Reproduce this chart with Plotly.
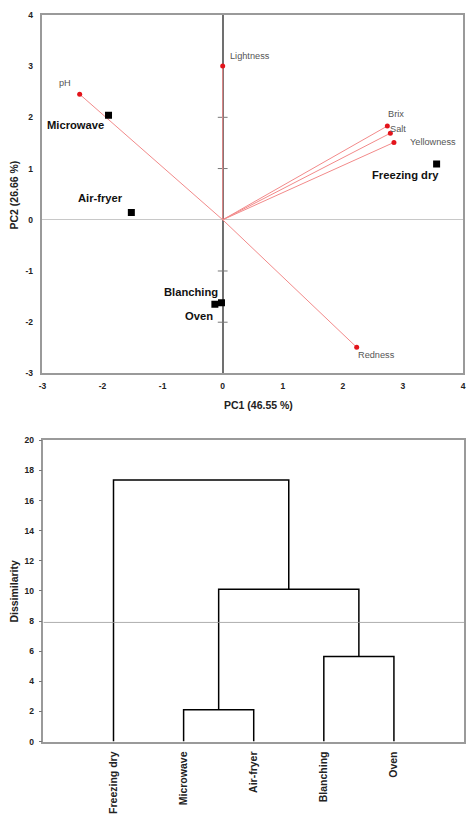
import plotly.graph_objects as go

# ---------------- PCA biplot data ----------------
var_names = ["pH", "Lightness", "Brix", "Salt", "Yellowness", "Redness"]
var_pc1 = [-2.38, 0.00, 2.74, 2.79, 2.85, 2.23]
var_pc2 = [2.45, 3.00, 1.83, 1.69, 1.51, -2.49]

obs_names = ["Microwave", "Air-fryer", "Blanching", "Oven", "Freezing dry"]
obs_pc1 = [-1.90, -1.52, -0.02, -0.13, 3.56]
obs_pc2 = [2.04, 0.14, -1.62, -1.65, 1.09]

pc_ticks = [-3, -2, -1, 0, 1, 2, 3, 4]
axis_mark_ticks = [-2, -1, 1, 2]

# ---------------- Dendrogram data ----------------
leaf_names = ["Freezing dry", "Microwave", "Air-fryer", "Blanching", "Oven"]
merge_pairs = [("Microwave", "Air-fryer"), ("Blanching", "Oven"), ("C1", "C2"), ("Freezing dry", "C3")]
merge_heights = [2.12, 5.64, 10.12, 17.36]
cut_level = 7.91
dis_ticks = list(range(0, 21, 2))

W, H = 469, 817
FONT = "Liberation Sans, Arial"
fig = go.Figure()

# small ticks on the vertical centre axis
fig.add_trace(go.Scatter(x=[0] * len(axis_mark_ticks), y=axis_mark_ticks, mode="markers",
                         marker=dict(symbol="line-ew-open", size=7, color="#777",
                                     line=dict(color="#777", width=1)),
                         hoverinfo="skip", showlegend=False, xaxis="x", yaxis="y"))
# ---- biplot vectors ----
for name, x, y in zip(var_names, var_pc1, var_pc2):
    fig.add_trace(go.Scatter(x=[0, x], y=[0, y], mode="lines",
                             line=dict(color="#f28a8a", width=1),
                             hoverinfo="skip", showlegend=False, xaxis="x", yaxis="y"))
fig.add_trace(go.Scatter(x=var_pc1, y=var_pc2, mode="markers",
                         marker=dict(color="#e3141b", size=5), text=var_names,
                         showlegend=False, xaxis="x", yaxis="y"))
fig.add_trace(go.Scatter(x=obs_pc1, y=obs_pc2, mode="markers",
                         marker=dict(color="black", size=7, symbol="square"),
                         text=obs_names, showlegend=False, xaxis="x", yaxis="y"))

var_offsets = {"pH": ("right", -7, 11), "Lightness": ("left", 5, 10),
               "Brix": ("left", -1, 12), "Salt": ("left", -2, 4),
               "Yellowness": ("left", 14, 0), "Redness": ("left", -1, -8)}
obs_offsets = {"Microwave": ("right", -3, -10), "Air-fryer": ("right", -6, 15),
               "Blanching": ("right", -1, 11), "Oven": ("right", 0, -12),
               "Freezing dry": ("right", 4, -11)}

annotations = []
for name, x, y in zip(var_names, var_pc1, var_pc2):
    xa, xs, ys = var_offsets[name]
    annotations.append(dict(x=x, y=y, xref="x", yref="y", text=name, showarrow=False,
                            xanchor=xa, yanchor="middle", xshift=xs, yshift=ys,
                            font=dict(family=FONT, size=9.2, color="#555")))
for name, x, y in zip(obs_names, obs_pc1, obs_pc2):
    xa, xs, ys = obs_offsets[name]
    annotations.append(dict(x=x, y=y, xref="x", yref="y", text="<b>%s</b>" % name,
                            showarrow=False, xanchor=xa, yanchor="middle", xshift=xs, yshift=ys,
                            font=dict(family=FONT, size=11.2, color="#111")))

# ---- dendrogram ----
pos = {n: i + 1 for i, n in enumerate(leaf_names)}
hgt = {n: 0.0 for n in leaf_names}
for k, ((a, b), h) in enumerate(zip(merge_pairs, merge_heights)):
    xa_, xb_ = pos[a], pos[b]
    fig.add_trace(go.Scatter(x=[xa_, xa_, xb_, xb_], y=[hgt[a], h, h, hgt[b]], mode="lines",
                             line=dict(color="black", width=1.5),
                             hoverinfo="skip", showlegend=False, xaxis="x2", yaxis="y2"))
    cname = "C%d" % (k + 1)
    pos[cname] = (xa_ + xb_) / 2
    hgt[cname] = h
fig.add_trace(go.Scatter(x=[0, len(leaf_names) + 1], y=[cut_level, cut_level], mode="lines",
                         line=dict(color="#999", width=0.8),
                         hoverinfo="skip", showlegend=False, xaxis="x2", yaxis="y2"))

tickfont = dict(family=FONT, size=8.5, color="#222")
titlefont = dict(family=FONT, size=10.5, color="#222")

annotations += [
    dict(x=258 / W, y=1 - 405 / H, xref="paper", yref="paper", text="<b>PC1 (46.55 %)</b>",
         showarrow=False, xanchor="center", yanchor="middle", font=titlefont),
    dict(x=10 / W, y=1 - 192 / H, xref="paper", yref="paper", text="<b>PC2 (26.66 %)</b>",
         showarrow=False, textangle=-90, xanchor="center", yanchor="middle", font=titlefont),
    dict(x=10 / W, y=1 - 593 / H, xref="paper", yref="paper", text="<b>Dissimilarity</b>",
         showarrow=False, textangle=-90, xanchor="center", yanchor="middle", font=titlefont),
]

fig.update_layout(
    width=W, height=H, margin=dict(l=0, r=0, t=0, b=0),
    paper_bgcolor="white", plot_bgcolor="white",
    xaxis=dict(domain=[39 / W, 466 / W], range=[-3, 4], tickvals=pc_ticks,
               ticktext=["<b>%d</b>" % v for v in pc_ticks], tickfont=tickfont,
               showgrid=False, zeroline=True, zerolinecolor="#707070", zerolinewidth=1.5,
               showline=True, mirror=True, linecolor="#9a9a9a", linewidth=1.5,
               ticks="", ticklabelstandoff=4, anchor="y", fixedrange=True),
    yaxis=dict(domain=[1 - 373 / H, 1 - 10 / H], range=[-3, 4], tickvals=pc_ticks,
               ticktext=["<b>%d</b>" % v for v in pc_ticks], tickfont=tickfont,
               showgrid=False, zeroline=True, zerolinecolor="#c8c8c8", zerolinewidth=1,
               showline=True, mirror=True, linecolor="#9a9a9a", linewidth=1.5,
               ticks="", ticklabelstandoff=6, anchor="x", fixedrange=True),
    xaxis2=dict(domain=[40 / W, 467 / W], range=[0, len(leaf_names) + 1],
                tickvals=list(range(1, len(leaf_names) + 1)),
                ticktext=["<b>%s</b>" % n for n in leaf_names], tickangle=-90,
                tickfont=dict(family=FONT, size=10.5, color="#222"),
                showgrid=False, zeroline=False, showline=True, mirror=True,
                linecolor="#9a9a9a", linewidth=1.5, ticks="", ticklabelstandoff=4,
                anchor="y2", fixedrange=True),
    yaxis2=dict(domain=[1 - 745.7 / H, 1 - 440.7 / H], range=[0, 20], tickvals=dis_ticks,
                ticktext=["<b>%d</b>" % v for v in dis_ticks], tickfont=tickfont,
                showgrid=False, zeroline=False, showline=True, mirror=True,
                linecolor="#9a9a9a", linewidth=1.5, ticks="outside", ticklen=3,
                tickcolor="#777", ticklabelstandoff=3, anchor="x2", fixedrange=True),
    annotations=annotations,
)

fig.write_html("out.html")
